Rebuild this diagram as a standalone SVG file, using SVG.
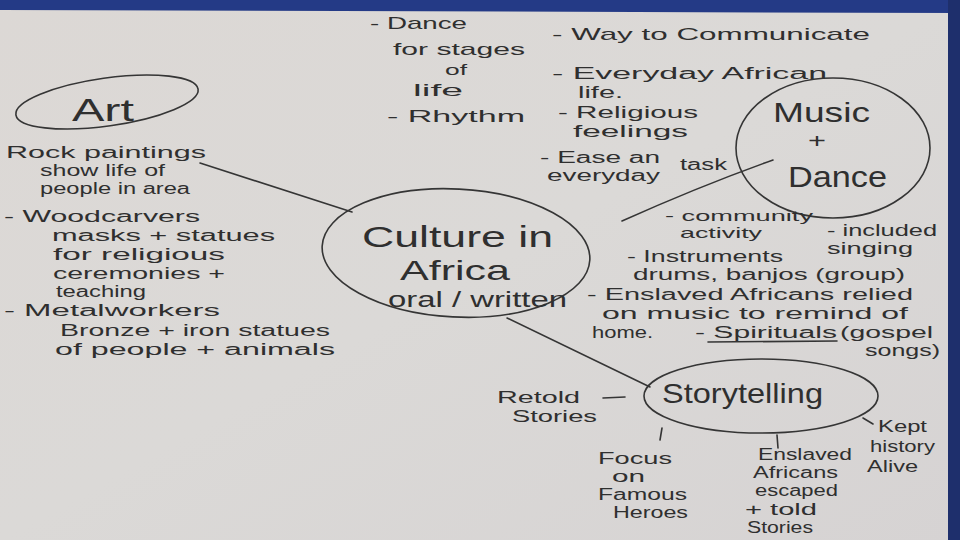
<svg xmlns="http://www.w3.org/2000/svg" width="960" height="540" viewBox="0 0 960 540">
<defs>
<linearGradient id="paper" x1="0" y1="0" x2="1" y2="1">
<stop offset="0" stop-color="#dcd8d5"/>
<stop offset="0.5" stop-color="#dbd9d7"/>
<stop offset="1" stop-color="#d6d3d3"/>
</linearGradient>
<style>
.t{font-family:"Liberation Sans",Arial,sans-serif;fill:#2f2f2f}
.n{font-size:16px}
.m{font-size:17px}
.c{font-size:15px}
.ln{fill:none;stroke:#353535;stroke-width:1.6;stroke-linecap:round}
</style>
</defs>
<rect x="0" y="0" width="960" height="540" fill="url(#paper)"/>
<polygon points="0,0 960,0 960,13 0,10" fill="#243a86"/>
<rect x="948" y="0" width="12" height="540" fill="#1e2f6c"/>

<g id="connectors">
<path class="ln" d="M200,163 L352,212"/>
<path class="ln" d="M622,221 Q700,186 773,160"/>
<path class="ln" d="M507,318 L650,387"/>
<path class="ln" d="M603,398 L625,397"/>
<path class="ln" d="M662,428 L660,440"/>
<path class="ln" d="M777,435 L778,448"/>
<path class="ln" d="M863,418 L873,424"/>
</g>

<g id="art">
<ellipse class="ln" cx="107" cy="102" rx="92" ry="24" transform="rotate(-8 107 102)"/>
<text class="t" font-size="32" x="72" y="121" textLength="62" lengthAdjust="spacingAndGlyphs">Art</text>
</g>

<g id="art-notes">
<text class="t n" x="6" y="158" textLength="200" lengthAdjust="spacingAndGlyphs">Rock paintings</text>
<text class="t n" x="40" y="176" textLength="125" lengthAdjust="spacingAndGlyphs">show life of</text>
<text class="t n" x="40" y="194" textLength="150" lengthAdjust="spacingAndGlyphs">people in area</text>
<text class="t n" x="4" y="222" textLength="196" lengthAdjust="spacingAndGlyphs">- Woodcarvers</text>
<text class="t n" x="52" y="241" textLength="223" lengthAdjust="spacingAndGlyphs">masks + statues</text>
<text class="t n" x="53" y="260" textLength="172" lengthAdjust="spacingAndGlyphs">for religious</text>
<text class="t n" x="53" y="279" textLength="172" lengthAdjust="spacingAndGlyphs">ceremonies +</text>
<text class="t n" x="56" y="297" textLength="90" lengthAdjust="spacingAndGlyphs">teaching</text>
<text class="t n" x="4" y="316" textLength="216" lengthAdjust="spacingAndGlyphs">- Metalworkers</text>
<text class="t n" x="60" y="336" textLength="270" lengthAdjust="spacingAndGlyphs">Bronze + iron statues</text>
<text class="t n" x="55" y="355" textLength="280" lengthAdjust="spacingAndGlyphs">of people + animals</text>
</g>

<g id="dance-notes">
<text class="t m" x="370" y="29" textLength="97" lengthAdjust="spacingAndGlyphs">- Dance</text>
<text class="t m" x="393" y="55" textLength="132" lengthAdjust="spacingAndGlyphs">for stages</text>
<text class="t c" x="445" y="75" textLength="22" lengthAdjust="spacingAndGlyphs">of</text>
<text class="t m" x="413" y="96" textLength="50" lengthAdjust="spacingAndGlyphs">life</text>
<text class="t m" x="387" y="122" textLength="138" lengthAdjust="spacingAndGlyphs">- Rhythm</text>
</g>

<g id="music-notes">
<text class="t m" x="552" y="40" textLength="318" lengthAdjust="spacingAndGlyphs">- Way to Communicate</text>
<text class="t n" x="552" y="79" textLength="275" lengthAdjust="spacingAndGlyphs">- Everyday African</text>
<text class="t n" x="578" y="98" textLength="45" lengthAdjust="spacingAndGlyphs">life.</text>
<text class="t n" x="558" y="118" textLength="140" lengthAdjust="spacingAndGlyphs">- Religious</text>
<text class="t n" x="573" y="137" textLength="115" lengthAdjust="spacingAndGlyphs">feelings</text>
<text class="t n" x="540" y="163" textLength="120" lengthAdjust="spacingAndGlyphs">- Ease an</text>
<text class="t n" x="547" y="181" textLength="113" lengthAdjust="spacingAndGlyphs">everyday</text>
<text class="t n" x="680" y="170" textLength="47" lengthAdjust="spacingAndGlyphs">task</text>
</g>

<g id="music-dance">
<ellipse class="ln" cx="833" cy="148" rx="97" ry="70"/>
<text class="t" font-size="28" x="773" y="122" textLength="97" lengthAdjust="spacingAndGlyphs">Music</text>
<text class="t" font-size="20" x="808" y="148" textLength="18" lengthAdjust="spacingAndGlyphs">+</text>
<text class="t" font-size="30" x="788" y="187" textLength="99" lengthAdjust="spacingAndGlyphs">Dance</text>
</g>

<g id="music-dance-notes">
<text class="t c" x="665" y="221" textLength="148" lengthAdjust="spacingAndGlyphs">- community</text>
<text class="t c" x="680" y="238" textLength="82" lengthAdjust="spacingAndGlyphs">activity</text>
<text class="t n" x="827" y="236" textLength="110" lengthAdjust="spacingAndGlyphs">- included</text>
<text class="t n" x="827" y="254" textLength="86" lengthAdjust="spacingAndGlyphs">singing</text>
<text class="t n" x="627" y="262" textLength="156" lengthAdjust="spacingAndGlyphs">- Instruments</text>
<text class="t n" x="633" y="280" textLength="272" lengthAdjust="spacingAndGlyphs">drums, banjos (group)</text>
<text class="t n" x="587" y="300" textLength="326" lengthAdjust="spacingAndGlyphs">- Enslaved Africans relied</text>
<text class="t n" x="602" y="319" textLength="306" lengthAdjust="spacingAndGlyphs">on music to remind of</text>
<text class="t n" x="592" y="338" textLength="61" lengthAdjust="spacingAndGlyphs">home.</text>
<text class="t n" x="695" y="338" textLength="142" lengthAdjust="spacingAndGlyphs">- Spirituals</text>
<path class="ln" d="M708,342 L837,341"/>
<text class="t n" x="840" y="338" textLength="93" lengthAdjust="spacingAndGlyphs">(gospel</text>
<text class="t n" x="865" y="356" textLength="75" lengthAdjust="spacingAndGlyphs">songs)</text>
</g>

<g id="culture">
<ellipse class="ln" cx="456" cy="253" rx="134" ry="64" transform="rotate(3 456 253)"/>
<text class="t" font-size="30" x="362" y="247" textLength="191" lengthAdjust="spacingAndGlyphs">Culture in</text>
<text class="t" font-size="28" x="400" y="280" textLength="110" lengthAdjust="spacingAndGlyphs">Africa</text>
<text class="t" font-size="22" x="388" y="307" textLength="179" lengthAdjust="spacingAndGlyphs">oral / written</text>
</g>

<g id="storytelling">
<ellipse class="ln" cx="761" cy="396" rx="117" ry="37"/>
<text class="t" font-size="28" x="662" y="403" textLength="161" lengthAdjust="spacingAndGlyphs">Storytelling</text>
</g>

<g id="story-notes">
<text class="t n" x="497" y="403" textLength="83" lengthAdjust="spacingAndGlyphs">Retold</text>
<text class="t n" x="512" y="422" textLength="85" lengthAdjust="spacingAndGlyphs">Stories</text>
<text class="t n" x="598" y="464" textLength="74" lengthAdjust="spacingAndGlyphs">Focus</text>
<text class="t n" x="612" y="482" textLength="33" lengthAdjust="spacingAndGlyphs">on</text>
<text class="t n" x="598" y="500" textLength="89" lengthAdjust="spacingAndGlyphs">Famous</text>
<text class="t n" x="613" y="518" textLength="75" lengthAdjust="spacingAndGlyphs">Heroes</text>
<text class="t n" x="758" y="460" textLength="94" lengthAdjust="spacingAndGlyphs">Enslaved</text>
<text class="t n" x="753" y="478" textLength="85" lengthAdjust="spacingAndGlyphs">Africans</text>
<text class="t n" x="755" y="496" textLength="83" lengthAdjust="spacingAndGlyphs">escaped</text>
<text class="t n" x="745" y="515" textLength="72" lengthAdjust="spacingAndGlyphs">+ told</text>
<text class="t n" x="747" y="533" textLength="66" lengthAdjust="spacingAndGlyphs">Stories</text>
<text class="t n" x="878" y="432" textLength="49" lengthAdjust="spacingAndGlyphs">Kept</text>
<text class="t n" x="870" y="452" textLength="65" lengthAdjust="spacingAndGlyphs">history</text>
<text class="t n" x="867" y="472" textLength="51" lengthAdjust="spacingAndGlyphs">Alive</text>
</g>
</svg>
